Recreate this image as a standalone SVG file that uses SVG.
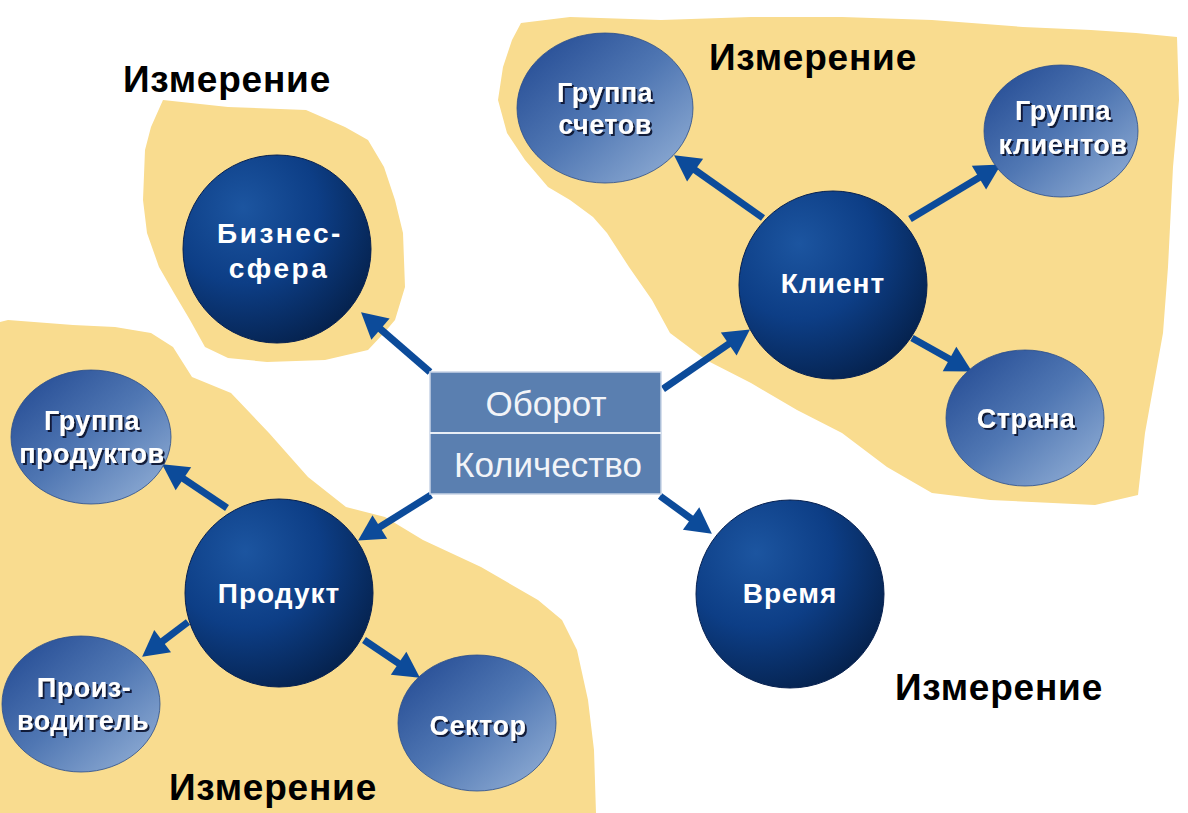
<svg xmlns="http://www.w3.org/2000/svg" width="1188" height="813" viewBox="0 0 1188 813">
<defs>
  <radialGradient id="big" cx="0.32" cy="0.28" r="0.8">
    <stop offset="0" stop-color="#1c55a0"/>
    <stop offset="0.5" stop-color="#0d3e86"/>
    <stop offset="1" stop-color="#05214c"/>
  </radialGradient>
  <linearGradient id="small" x1="0" y1="0" x2="1" y2="1">
    <stop offset="0" stop-color="#1f4690"/>
    <stop offset="0.5" stop-color="#5077b3"/>
    <stop offset="1" stop-color="#98b4d9"/>
  </linearGradient>
  <filter id="sh" x="-10%" y="-20%" width="130%" height="150%">
    <feDropShadow dx="2" dy="2" stdDeviation="0.6" flood-color="#0a1430" flood-opacity="0.95"/>
  </filter>
  <marker id="ah" markerUnits="userSpaceOnUse" markerWidth="30" markerHeight="30" viewBox="0 -14 26 28" refX="8" refY="0" orient="auto">
    <path d="M0,-13 L24,0 L0,13 z" fill="#0c4b9a"/>
  </marker>
</defs>
<style>
  .blob{fill:#f9dc8f;stroke:none}
  .bigc{fill:url(#big);stroke:#062050;stroke-width:1}
  .smc{fill:url(#small);stroke:#2a4c8a;stroke-width:0.8}
  .bt{font-family:"Liberation Sans",Arial,sans-serif;font-weight:bold;font-size:28px;fill:#ffffff;text-anchor:middle}
  .st{font-family:"Liberation Sans",Arial,sans-serif;font-weight:bold;font-size:27px;fill:#ffffff;text-anchor:middle;filter:url(#sh);letter-spacing:0.5px}
  .dim{font-family:"Liberation Sans",Arial,sans-serif;font-weight:bold;font-size:37px;fill:#000000;text-anchor:middle;letter-spacing:0.8px}
  .bx{font-family:"Liberation Sans",Arial,sans-serif;font-size:35px;fill:#f2f4f8;text-anchor:middle}
  .conn line{stroke:#0c4b9a;stroke-width:7;marker-end:url(#ah)}
</style>

<g id="blobs">
  <path class="blob" d="M163,100 L228,107 L306,110 L345,127 L368,140 L384,167 L395,200 L403,233 L405,287 L395,320 L384,333 L368,350 L325,360 L267,362 L228,358 L205,347 L190,320 L174,293 L159,267 L147,233 L143,200 L145,150 L151,127 Z"/>
  <path class="blob" d="M521,23 L570,17 L661,20 L751,17 L842,17 L932,20 L1023,27 L1091,30 L1136,33 L1177,37 L1179,100 L1173,167 L1168,267 L1163,333 L1154,383 L1145,433 L1138,495 L1095,505 L990,500 L932,493 L887,467 L842,433 L797,410 L751,383 L706,360 L670,333 L652,300 L629,267 L607,233 L593,217 L570,200 L548,187 L525,160 L507,133 L498,100 L503,67 L512,40 Z"/>
  <path class="blob" d="M0,322 L8,320 L73,325 L115,327 L151,333 L173,347 L192,377 L231,393 L269,433 L308,477 L346,507 L385,517 L423,540 L481,567 L538,600 L562,620 L577,650 L588,700 L594,750 L596,813 L0,813 Z"/>
</g>

<g id="labels">
  <text class="dim" x="227" y="92">Измерение</text>
  <text class="dim" x="813" y="70">Измерение</text>
  <text class="dim" x="999" y="700">Измерение</text>
  <text class="dim" x="273" y="800">Измерение</text>
</g>

<g class="conn" id="connectors">
  <line x1="430" y1="372" x2="374" y2="323.5"/>
  <line x1="663" y1="389" x2="735.8" y2="339.1"/>
  <line x1="431" y1="495" x2="372.6" y2="531.5"/>
  <line x1="660" y1="496" x2="698" y2="523.6"/>
  <line x1="763" y1="218" x2="688.1" y2="165.2"/>
  <line x1="910" y1="219" x2="986.3" y2="173.2"/>
  <line x1="912" y1="338" x2="957" y2="363.2"/>
  <line x1="227" y1="508" x2="176.3" y2="473.9"/>
  <line x1="188" y1="622" x2="155.8" y2="646.4"/>
  <line x1="364" y1="640" x2="405.7" y2="668.1"/>
</g>

<g id="fact">
  <rect x="430" y="372" width="231" height="122" fill="#5a7fb0" stroke="#c8d4e6" stroke-width="1.5"/>
  <line x1="430" y1="433" x2="661" y2="433" stroke="#e8eef6" stroke-width="2"/>
  <text class="bx" x="546" y="416">Оборот</text>
  <text class="bx" x="548" y="477">Количество</text>
</g>

<g id="biznes">
  <circle class="bigc" cx="277" cy="249" r="94"/>
  <text class="bt" x="280" y="243" style="letter-spacing:2.5px">Бизнес-</text>
  <text class="bt" x="279" y="278" style="letter-spacing:2.5px">сфера</text>
</g>
<g id="klient">
  <circle class="bigc" cx="833" cy="285" r="94"/>
  <text class="bt" x="833" y="293" style="letter-spacing:1px">Клиент</text>
</g>
<g id="produkt">
  <circle class="bigc" cx="279" cy="593" r="94"/>
  <text class="bt" x="279" y="603" style="letter-spacing:1px">Продукт</text>
</g>
<g id="vremya">
  <circle class="bigc" cx="790" cy="594" r="94"/>
  <text class="bt" x="790" y="603" style="letter-spacing:1px">Время</text>
</g>

<g id="gruppa-schetov">
  <ellipse class="smc" cx="605" cy="108" rx="88" ry="75"/>
  <text class="st" x="605" y="102">Группа</text>
  <text class="st" x="605" y="134">счетов</text>
</g>
<g id="gruppa-klientov">
  <ellipse class="smc" cx="1061" cy="131" rx="77" ry="66"/>
  <text class="st" x="1063" y="120">Группа</text>
  <text class="st" x="1063" y="154">клиентов</text>
</g>
<g id="strana">
  <ellipse class="smc" cx="1025" cy="418" rx="79" ry="68"/>
  <text class="st" x="1026" y="428">Страна</text>
</g>
<g id="gruppa-produktov">
  <ellipse class="smc" cx="91" cy="437" rx="80" ry="67"/>
  <text class="st" x="92" y="430">Группа</text>
  <text class="st" x="92" y="463">продуктов</text>
</g>
<g id="proizvoditel">
  <ellipse class="smc" cx="81" cy="704" rx="79" ry="68"/>
  <text class="st" x="84" y="697">Произ-</text>
  <text class="st" x="83" y="730">водитель</text>
</g>
<g id="sektor">
  <ellipse class="smc" cx="477" cy="723" rx="79" ry="68"/>
  <text class="st" x="478" y="735">Сектор</text>
</g>
</svg>
